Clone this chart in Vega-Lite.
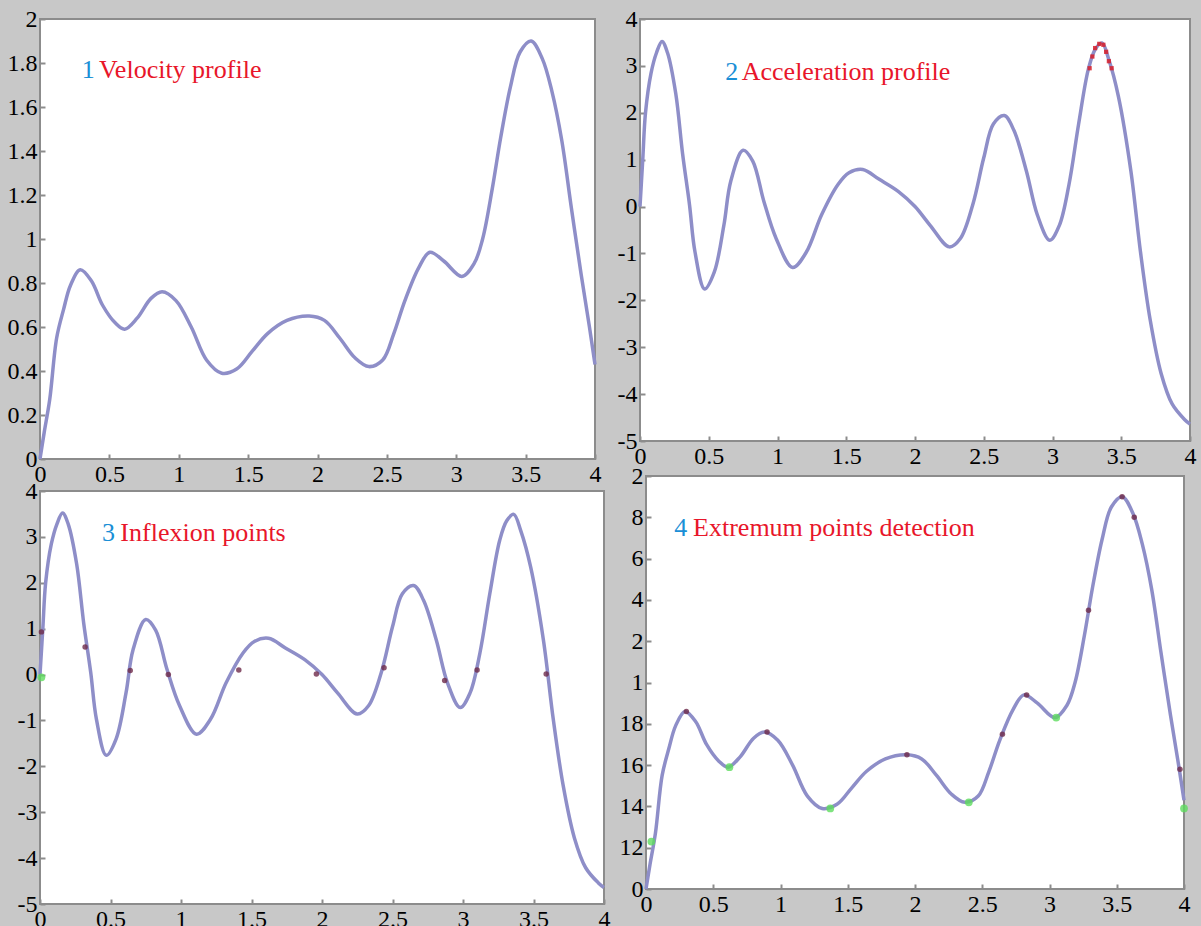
{
  "$schema": "https://vega.github.io/schema/vega-lite/v6.json",
  "background": "#c8c8c8",
  "padding": {"left": 6, "top": 6, "right": 6, "bottom": 0},
  "autosize": {"type": "pad"},
  "config": {
    "view": {"fill": "white", "stroke": "#8c8c8c", "strokeWidth": 2},
    "axis": {"labelFont": "Liberation Serif", "labelFontSize": 24, "labelColor": "black", "domain": false, "grid": false, "ticks": true, "tickSize": -5, "tickColor": "#8c8c8c", "tickWidth": 2, "labelPadding": 8, "labelFlush": false, "labelOverlap": false, "zindex": 1}
  },
  "datasets": {
    "vel": [
      {"x": 0, "v": 0}, {"x": 0.03, "v": 0.12}, {"x": 0.07, "v": 0.27}, {"x": 0.12, "v": 0.55}, {"x": 0.17, "v": 0.68},
      {"x": 0.22, "v": 0.79}, {"x": 0.29, "v": 0.86}, {"x": 0.37, "v": 0.81}, {"x": 0.45, "v": 0.7}, {"x": 0.54, "v": 0.62},
      {"x": 0.61, "v": 0.59}, {"x": 0.7, "v": 0.64}, {"x": 0.8, "v": 0.73}, {"x": 0.88, "v": 0.76}, {"x": 0.98, "v": 0.72},
      {"x": 1.09, "v": 0.6}, {"x": 1.2, "v": 0.45}, {"x": 1.31, "v": 0.39}, {"x": 1.42, "v": 0.41}, {"x": 1.53, "v": 0.49},
      {"x": 1.64, "v": 0.57}, {"x": 1.78, "v": 0.63}, {"x": 1.94, "v": 0.65}, {"x": 2.05, "v": 0.63}, {"x": 2.16, "v": 0.55},
      {"x": 2.27, "v": 0.46}, {"x": 2.37, "v": 0.42}, {"x": 2.47, "v": 0.45}, {"x": 2.55, "v": 0.57}, {"x": 2.63, "v": 0.72},
      {"x": 2.73, "v": 0.87}, {"x": 2.81, "v": 0.94}, {"x": 2.91, "v": 0.9}, {"x": 3.04, "v": 0.83}, {"x": 3.13, "v": 0.89},
      {"x": 3.19, "v": 1.0}, {"x": 3.26, "v": 1.23}, {"x": 3.32, "v": 1.46}, {"x": 3.39, "v": 1.69}, {"x": 3.46, "v": 1.85},
      {"x": 3.54, "v": 1.9}, {"x": 3.62, "v": 1.82}, {"x": 3.69, "v": 1.67}, {"x": 3.76, "v": 1.45}, {"x": 3.83, "v": 1.14},
      {"x": 3.9, "v": 0.84}, {"x": 3.96, "v": 0.6}, {"x": 4.0, "v": 0.43}
    ],
    "acc": [
      {"x": 0, "a": 0}, {"x": 0.02, "a": 1.0}, {"x": 0.04, "a": 2.0}, {"x": 0.08, "a": 2.84}, {"x": 0.12, "a": 3.28},
      {"x": 0.16, "a": 3.52}, {"x": 0.2, "a": 3.28}, {"x": 0.26, "a": 2.41}, {"x": 0.31, "a": 1.12}, {"x": 0.36, "a": 0.04},
      {"x": 0.4, "a": -0.97}, {"x": 0.47, "a": -1.76}, {"x": 0.54, "a": -1.4}, {"x": 0.61, "a": -0.4}, {"x": 0.66, "a": 0.54},
      {"x": 0.75, "a": 1.2}, {"x": 0.82, "a": 0.97}, {"x": 0.9, "a": 0.12}, {"x": 0.99, "a": -0.68}, {"x": 1.11, "a": -1.3},
      {"x": 1.21, "a": -0.97}, {"x": 1.32, "a": -0.18}, {"x": 1.44, "a": 0.47}, {"x": 1.52, "a": 0.72}, {"x": 1.62, "a": 0.79},
      {"x": 1.74, "a": 0.58}, {"x": 1.88, "a": 0.32}, {"x": 2.0, "a": 0.0}, {"x": 2.11, "a": -0.4}, {"x": 2.25, "a": -0.86},
      {"x": 2.33, "a": -0.68}, {"x": 2.42, "a": 0.04}, {"x": 2.5, "a": 1.04}, {"x": 2.57, "a": 1.76}, {"x": 2.65, "a": 1.94},
      {"x": 2.72, "a": 1.62}, {"x": 2.81, "a": 0.76}, {"x": 2.89, "a": -0.18}, {"x": 2.98, "a": -0.72}, {"x": 3.05, "a": -0.4},
      {"x": 3.12, "a": 0.47}, {"x": 3.19, "a": 1.76}, {"x": 3.26, "a": 2.92}, {"x": 3.31, "a": 3.35}, {"x": 3.36, "a": 3.49},
      {"x": 3.41, "a": 3.13}, {"x": 3.48, "a": 2.34}, {"x": 3.57, "a": 0.76}, {"x": 3.64, "a": -0.97}, {"x": 3.71, "a": -2.41},
      {"x": 3.79, "a": -3.56}, {"x": 3.87, "a": -4.21}, {"x": 3.96, "a": -4.54}, {"x": 4.0, "a": -4.64}
    ],
    "peakred": [
      {"x": 3.27, "a": 2.95}, {"x": 3.29, "a": 3.2}, {"x": 3.31, "a": 3.38}, {"x": 3.34, "a": 3.47},
      {"x": 3.37, "a": 3.45}, {"x": 3.39, "a": 3.3}, {"x": 3.41, "a": 3.1}, {"x": 3.43, "a": 2.95}
    ],
    "inflex": [
      {"x": 0.01, "a": 0.93, "kind": "dark"}, {"x": 0.32, "a": 0.6, "kind": "dark"}, {"x": 0.64, "a": 0.09, "kind": "dark"},
      {"x": 0.91, "a": 0.0, "kind": "dark"}, {"x": 1.41, "a": 0.1, "kind": "dark"}, {"x": 1.96, "a": 0.01, "kind": "dark"},
      {"x": 2.44, "a": 0.15, "kind": "dark"}, {"x": 2.87, "a": -0.13, "kind": "dark"}, {"x": 3.1, "a": 0.1, "kind": "dark"},
      {"x": 3.59, "a": 0.01, "kind": "dark"}, {"x": 0.01, "a": -0.06, "kind": "green"}
    ],
    "ext": [
      {"x": 0.3, "v": 0.86, "kind": "dark"}, {"x": 0.9, "v": 0.76, "kind": "dark"}, {"x": 1.94, "v": 0.65, "kind": "dark"},
      {"x": 2.83, "v": 0.94, "kind": "dark"}, {"x": 3.54, "v": 1.9, "kind": "dark"}, {"x": 3.29, "v": 1.35, "kind": "dark"},
      {"x": 3.97, "v": 0.58, "kind": "dark"}, {"x": 2.65, "v": 0.75, "kind": "dark"}, {"x": 3.63, "v": 1.8, "kind": "dark"},
      {"x": 0.04, "v": 0.23, "kind": "green"}, {"x": 0.62, "v": 0.59, "kind": "green"}, {"x": 1.37, "v": 0.39, "kind": "green"},
      {"x": 2.4, "v": 0.42, "kind": "green"}, {"x": 3.05, "v": 0.83, "kind": "green"}, {"x": 4.0, "v": 0.39, "kind": "green"}
    ],
    "titles": [
      {"panel": 1, "part": "num", "label": "1", "x": 0.3, "y": 1.77},
      {"panel": 1, "part": "text", "label": "Velocity profile", "x": 0.425, "y": 1.77},
      {"panel": 2, "part": "num", "label": "2", "x": 0.62, "y": 2.88},
      {"panel": 2, "part": "text", "label": "Acceleration profile", "x": 0.74, "y": 2.88},
      {"panel": 3, "part": "num", "label": "3", "x": 0.44, "y": 3.08},
      {"panel": 3, "part": "text", "label": "Inflexion points", "x": 0.57, "y": 3.08},
      {"panel": 4, "part": "num", "label": "4", "x": 0.21, "y": 1.75},
      {"panel": 4, "part": "text", "label": "Extremum points detection", "x": 0.35, "y": 1.75}
    ]
  },
  "spacing": 4,
  "hconcat": [
    {
      "bounds": "flush",
      "spacing": 32,
      "vconcat": [
        {
          "width": 555, "height": 440,
          "layer": [
            {
              "data": {"name": "vel"},
              "mark": {"type": "line", "color": "#8e8ec8", "strokeWidth": 3.5, "interpolate": "catmull-rom"},
              "encoding": {
                "x": {"field": "x", "type": "quantitative", "title": null, "scale": {"domain": [0, 4], "nice": false, "zero": false},
                      "axis": {"values": [0, 0.5, 1, 1.5, 2, 2.5, 3, 3.5, 4], "labelExpr": "'' + datum.value"}},
                "y": {"field": "v", "type": "quantitative", "title": null, "scale": {"domain": [0, 2], "nice": false},
                      "axis": {"values": [0, 0.2, 0.4, 0.6, 0.8, 1, 1.2, 1.4, 1.6, 1.8, 2], "labelExpr": "'' + datum.value"}}
              }
            },
            {
              "data": {"name": "titles"},
              "transform": [{"filter": "datum.panel == 1"}],
              "mark": {"type": "text", "align": "left", "baseline": "middle", "font": "Liberation Serif", "fontSize": 26},
              "encoding": {
                "x": {"field": "x", "type": "quantitative", "title": null},
                "y": {"field": "y", "type": "quantitative", "title": null},
                "text": {"field": "label"},
                "color": {"field": "part", "type": "nominal", "scale": {"domain": ["num", "text"], "range": ["#1a8fd6", "#e8162a"]}, "legend": null}
              }
            }
          ]
        },
        {
          "width": 564, "height": 413,
          "layer": [
            {
              "mark": {"type": "rule", "color": "#e6dede", "strokeWidth": 2, "strokeDash": [4, 4]},
              "encoding": {"y": {"datum": 0, "type": "quantitative"}}
            },
            {
              "data": {"name": "acc"},
              "mark": {"type": "line", "color": "#8e8ec8", "strokeWidth": 3.5, "interpolate": "catmull-rom"},
              "encoding": {
                "x": {"field": "x", "type": "quantitative", "title": null, "scale": {"domain": [0, 4], "nice": false, "zero": false},
                      "axis": {"values": [0, 0.5, 1, 1.5, 2, 2.5, 3, 3.5, 4], "labelExpr": "'' + datum.value"}},
                "y": {"field": "a", "type": "quantitative", "title": null, "scale": {"domain": [-5, 4], "nice": false},
                      "axis": {"values": [-5, -4, -3, -2, -1, 0, 1, 2, 3, 4], "labelExpr": "'' + datum.value"}}
              }
            },
            {
              "data": {"name": "inflex"},
              "transform": [{"filter": "datum.kind == 'dark'"}],
              "mark": {"type": "point", "filled": true, "color": "#6e2a4a", "size": 30, "opacity": 0.8},
              "encoding": {
                "x": {"field": "x", "type": "quantitative", "title": null},
                "y": {"field": "a", "type": "quantitative", "title": null}
              }
            },
            {
              "data": {"name": "inflex"},
              "transform": [{"filter": "datum.kind == 'green'"}],
              "mark": {"type": "point", "filled": true, "color": "#5edc5e", "size": 60, "opacity": 0.8},
              "encoding": {
                "x": {"field": "x", "type": "quantitative", "title": null},
                "y": {"field": "a", "type": "quantitative", "title": null}
              }
            },
            {
              "data": {"name": "titles"},
              "transform": [{"filter": "datum.panel == 3"}],
              "mark": {"type": "text", "align": "left", "baseline": "middle", "font": "Liberation Serif", "fontSize": 26},
              "encoding": {
                "x": {"field": "x", "type": "quantitative", "title": null},
                "y": {"field": "y", "type": "quantitative", "title": null},
                "text": {"field": "label"},
                "color": {"field": "part", "type": "nominal", "scale": {"domain": ["num", "text"], "range": ["#1a8fd6", "#e8162a"]}, "legend": null}
              }
            }
          ]
        }
      ]
    },
    {
      "bounds": "flush",
      "spacing": 35,
      "center": true,
      "vconcat": [
        {
          "width": 550, "height": 422,
          "layer": [
            {
              "mark": {"type": "rule", "color": "#e6dede", "strokeWidth": 2, "strokeDash": [4, 4]},
              "encoding": {"y": {"datum": 0, "type": "quantitative"}}
            },
            {
              "data": {"name": "acc"},
              "mark": {"type": "line", "color": "#8e8ec8", "strokeWidth": 3.5, "interpolate": "catmull-rom"},
              "encoding": {
                "x": {"field": "x", "type": "quantitative", "title": null, "scale": {"domain": [0, 4], "nice": false, "zero": false},
                      "axis": {"values": [0, 0.5, 1, 1.5, 2, 2.5, 3, 3.5, 4], "labelExpr": "'' + datum.value"}},
                "y": {"field": "a", "type": "quantitative", "title": null, "scale": {"domain": [-5, 4], "nice": false},
                      "axis": {"values": [-5, -4, -3, -2, -1, 0, 1, 2, 3, 4], "labelExpr": "'' + datum.value"}}
              }
            },
            {
              "data": {"name": "peakred"},
              "mark": {"type": "point", "shape": "square", "filled": true, "color": "#d8202a", "size": 18, "opacity": 0.85},
              "encoding": {
                "x": {"field": "x", "type": "quantitative", "title": null},
                "y": {"field": "a", "type": "quantitative", "title": null}
              }
            },
            {
              "data": {"name": "titles"},
              "transform": [{"filter": "datum.panel == 2"}],
              "mark": {"type": "text", "align": "left", "baseline": "middle", "font": "Liberation Serif", "fontSize": 26},
              "encoding": {
                "x": {"field": "x", "type": "quantitative", "title": null},
                "y": {"field": "y", "type": "quantitative", "title": null},
                "text": {"field": "label"},
                "color": {"field": "part", "type": "nominal", "scale": {"domain": ["num", "text"], "range": ["#1a8fd6", "#e8162a"]}, "legend": null}
              }
            }
          ]
        },
        {
          "width": 538, "height": 413,
          "layer": [
            {
              "data": {"name": "vel"},
              "mark": {"type": "line", "color": "#8e8ec8", "strokeWidth": 3.5, "interpolate": "catmull-rom"},
              "encoding": {
                "x": {"field": "x", "type": "quantitative", "title": null, "scale": {"domain": [0, 4], "nice": false, "zero": false},
                      "axis": {"values": [0, 0.5, 1, 1.5, 2, 2.5, 3, 3.5, 4], "labelExpr": "'' + datum.value"}},
                "y": {"field": "v", "type": "quantitative", "title": null, "scale": {"domain": [0, 2], "nice": false},
                      "axis": {"values": [0, 0.2, 0.4, 0.6, 0.8, 1, 1.2, 1.4, 1.6, 1.8, 2],
                               "labelExpr": "datum.value > 1.9 ? '2' : datum.value > 1.7 ? '8' : datum.value > 1.5 ? '6' : datum.value > 1.3 ? '4' : datum.value > 1.1 ? '2' : datum.value > 0.9 ? '1' : datum.value > 0.7 ? '18' : datum.value > 0.5 ? '16' : datum.value > 0.3 ? '14' : datum.value > 0.1 ? '12' : '0'"}}
              }
            },
            {
              "data": {"name": "ext"},
              "transform": [{"filter": "datum.kind == 'dark'"}],
              "mark": {"type": "point", "filled": true, "color": "#6e2a4a", "size": 30, "opacity": 0.8},
              "encoding": {
                "x": {"field": "x", "type": "quantitative", "title": null},
                "y": {"field": "v", "type": "quantitative", "title": null}
              }
            },
            {
              "data": {"name": "ext"},
              "transform": [{"filter": "datum.kind == 'green'"}],
              "mark": {"type": "point", "filled": true, "color": "#5edc5e", "size": 60, "opacity": 0.8},
              "encoding": {
                "x": {"field": "x", "type": "quantitative", "title": null},
                "y": {"field": "v", "type": "quantitative", "title": null}
              }
            },
            {
              "data": {"name": "titles"},
              "transform": [{"filter": "datum.panel == 4"}],
              "mark": {"type": "text", "align": "left", "baseline": "middle", "font": "Liberation Serif", "fontSize": 26},
              "encoding": {
                "x": {"field": "x", "type": "quantitative", "title": null},
                "y": {"field": "y", "type": "quantitative", "title": null},
                "text": {"field": "label"},
                "color": {"field": "part", "type": "nominal", "scale": {"domain": ["num", "text"], "range": ["#1a8fd6", "#e8162a"]}, "legend": null}
              }
            }
          ]
        }
      ]
    }
  ]
}
